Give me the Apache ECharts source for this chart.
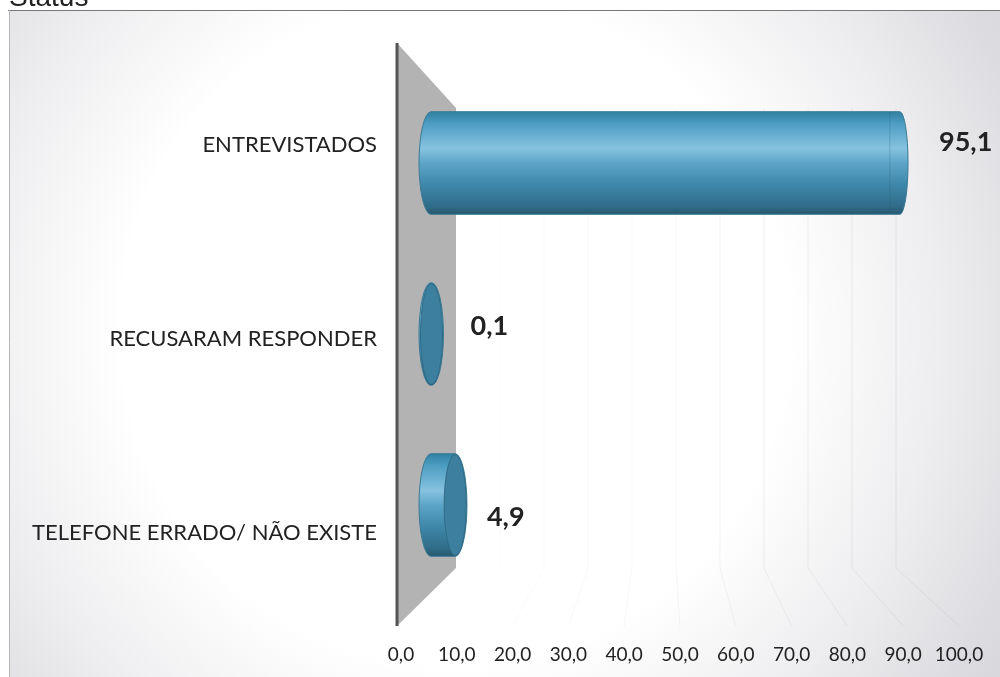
<!DOCTYPE html>
<html><head><meta charset="utf-8">
<style>html,body{margin:0;padding:0;background:#fff}#c{width:1000px;height:677px}</style>
<script src="https://cdn.jsdelivr.net/npm/echarts@6/dist/echarts.min.js"></script>
</head><body><div id="c"></div>
<script>
const categories = ['ENTREVISTADOS', 'RECUSARAM RESPONDER', 'TELEFONE ERRADO/ NÃO EXISTE'];
const values = [95.1, 0.1, 4.9];
const titleText = 'Status';
const gridTicks = [10, 20, 30, 40, 50, 60, 70, 80, 90, 100];

const labelShift = [[31, -21], [27, -8], [20, 12]];
const FRONT = {left: 401, width: 558, top: 48, height: 582};
const FLOOR_Y = 626;
const BARS = {left: 431, width: 493, top: 77.5, height: 513};
const BACK = {left: 456, width: 440, top: 108, height: 460};
const comma = v => v.toFixed(1).replace('.', ',');
const FONT = 'Lato';

const chart = echarts.init(document.getElementById('c'), null, {renderer: 'canvas'});

function bodyGradient() {
  return new echarts.graphic.LinearGradient(0, 0, 0, 1, [
    {offset: 0, color: '#2f7f9f'}, {offset: 0.12, color: '#4d9dc2'},
    {offset: 0.36, color: '#86c2e0'}, {offset: 0.5, color: '#5da5c8'},
    {offset: 0.72, color: '#3e86a8'}, {offset: 0.92, color: '#2f6c88'},
    {offset: 1, color: '#27566c'}
  ]);
}

function renderBar(params, api) {
  const v = api.value(1), idx = api.value(0);
  const start = api.coord([0, idx]), end = api.coord([v, idx]);
  const h = api.size([0, 1])[1] * 0.6, ry = h / 2;
  const cy = start[1], x0 = start[0], x1 = end[0];
  const rxL = 12, rxR = 12 - 4 * v / 100;
  const path = `M${x0} ${cy - ry}L${x1} ${cy - ry}A${rxR} ${ry} 0 0 1 ${x1} ${cy + ry}L${x0} ${cy + ry}A${rxL} ${ry} 0 0 1 ${x0} ${cy - ry}Z`;
  const kids = [{
    type: 'path',
    shape: {pathData: path, x: x0 - rxL, y: cy - ry, width: x1 - x0 + rxL + rxR, height: h, layout: 'cover'},
    style: {fill: bodyGradient(), stroke: '#3a7a96', lineWidth: 1}
  }];
  if (v < 50) {
    kids.push({
      type: 'ellipse',
      shape: {cx: x1, cy: cy, rx: rxL - 1, ry: ry - 1},
      style: {fill: '#3c7f9e', stroke: '#2f6b86', lineWidth: 1}
    });
  } else {
    kids.push({
      type: 'line',
      shape: {x1: x1 - 10, y1: cy - ry + 1, x2: x1 - 10, y2: cy + ry - 1},
      style: {stroke: 'rgba(30,90,110,0.25)', lineWidth: 1}
    });
  }
  const s = labelShift[idx];
  kids.push({
    type: 'text',
    style: {
      text: comma(v), x: x1 + rxR + s[0], y: cy + s[1], align: 'left', verticalAlign: 'middle',
      font: 'bold 27px ' + FONT, fill: '#222'
    }
  });
  return {type: 'group', children: kids};
}

function renderGridLine(params, api) {
  const t = api.value(0);
  const top = api.coord([t, 1]), bottom = api.coord([t, 0]);
  const fx = FRONT.left + FRONT.width * t / 100;
  return {
    type: 'polyline',
    shape: {points: [top, bottom, [fx, FLOOR_Y]]},
    style: {fill: 'none', stroke: 'rgba(110,110,120,' + (0.015 + 0.1 * t / 100) + ')', lineWidth: 1}
  };
}

chart.setOption({
  animation: false,
  backgroundColor: '#fff',
  title: {text: titleText, left: 4, top: -21, textStyle: {fontFamily: 'Liberation Sans', fontWeight: 'normal', fontSize: 28, color: '#222'}},
  graphic: [
    {type: 'rect', z: -10, shape: {x: 9, y: 10, width: 991, height: 667},
      style: {fill: new echarts.graphic.RadialGradient(0.45, 0.48, 1, [
        {offset: 0, color: '#fff'}, {offset: 0.5, color: '#fff'},
        {offset: 0.72, color: '#eeeef0'}, {offset: 0.9, color: '#dddde1'}, {offset: 1, color: '#d5d5da'}
      ])}},
    {type: 'line', z: -9, shape: {x1: 8, y1: 10.5, x2: 1000, y2: 10.5}, style: {stroke: '#777', lineWidth: 1}},
    {type: 'line', z: -9, shape: {x1: 9.5, y1: 10, x2: 9.5, y2: 677}, style: {stroke: '#b5b5b5', lineWidth: 1}},
    {type: 'polygon', z: -8, shape: {points: [[397, 43], [456, 108], [456, 568], [397, 626]]}, style: {fill: '#b3b3b3'}},
    {type: 'line', z: -7, shape: {x1: 397, y1: 43, x2: 397, y2: 626}, style: {stroke: '#555', lineWidth: 3}}
  ],
  grid: [
    {left: FRONT.left, width: FRONT.width, top: FRONT.top, height: FRONT.height},
    {left: BARS.left, width: BARS.width, top: BARS.top, height: BARS.height},
    {left: BACK.left, width: BACK.width, top: BACK.top, height: BACK.height}
  ],
  xAxis: [
    {gridIndex: 0, type: 'value', min: 0, max: 100, interval: 10, axisLine: {show: false}, axisTick: {show: false}, splitLine: {show: false},
      axisLabel: {margin: 15, fontFamily: FONT, fontSize: 19, color: '#222', formatter: comma, hideOverlap: false}},
    {gridIndex: 1, type: 'value', min: 0, max: 100, show: false},
    {gridIndex: 2, type: 'value', min: 0, max: 100, show: false}
  ],
  yAxis: [
    {gridIndex: 0, type: 'category', inverse: true, data: categories,
      axisLine: {show: false}, axisTick: {show: false}, splitLine: {show: false},
      axisLabel: {margin: 24, fontFamily: FONT, fontSize: 22, color: '#222', interval: 0}},
    {gridIndex: 1, type: 'category', inverse: true, data: categories, show: false},
    {gridIndex: 2, type: 'value', min: 0, max: 1, show: false}
  ],
  series: [
    {type: 'custom', name: 'grid', xAxisIndex: 2, yAxisIndex: 2, z: 1, silent: true, clip: false,
      data: gridTicks.map(t => [t]), encode: {x: 0}, renderItem: renderGridLine},
    {type: 'custom', name: 'Status', xAxisIndex: 1, yAxisIndex: 1, z: 3, clip: false,
      data: values.map((v, i) => [i, v]), encode: {x: 1, y: 0}, renderItem: renderBar}
  ]
});
</script></body></html>
